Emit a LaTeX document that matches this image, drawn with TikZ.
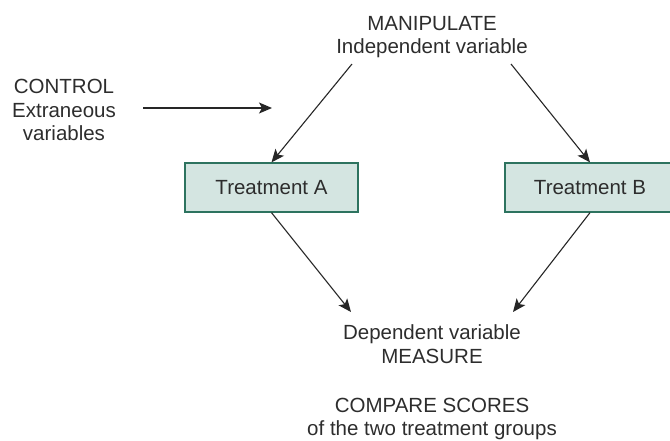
\documentclass[tikz,border=0pt]{standalone}
\usepackage{fontspec}
\setmainfont{Liberation Sans}
\usetikzlibrary{arrows.meta}
\definecolor{boxfill}{RGB}{212,229,225}
\definecolor{boxline}{RGB}{45,115,95}
\definecolor{txt}{RGB}{45,45,45}
\tikzset{
  lbl/.style={align=center, text=txt, font=\fontsize{20.5}{23.5}\selectfont, inner sep=0pt},
  tbox/.style={draw=boxline, fill=boxfill, line width=1.3pt, minimum height=49pt, inner sep=0pt, text=txt, font=\fontsize{20.5}{23.5}\selectfont},
  arr/.style={draw=black!85, line width=1.1pt, -{Stealth[length=13pt,width=11pt,inset=3pt]}}
}
\begin{document}
\begin{tikzpicture}[x=1pt,y=-1pt]
\useasboundingbox (0,0) rectangle (670,440);
\node[lbl] (manip) at (432,37) {MANIPULATE\\Independent variable};
\node[lbl] (control) at (64,110) {CONTROL\\Extraneous\\variables};
\node[tbox, minimum width=173pt] (ta) at (271.5,187.5) {Treatment A};
\node[tbox, minimum width=170pt] (tb) at (590,187.5) {Treatment B};
\node[lbl] (dep) at (432,344) {Dependent variable\\MEASURE};
\node[lbl] (comp) at (432,419) {COMPARE SCORES\\of the two treatment groups};
\coordinate (m1) at (352,64);
\coordinate (m2) at (511,64);
\coordinate (c1) at (143,108);
\coordinate (c2) at (272,108);
\coordinate (d1) at (351,312);
\coordinate (d2) at (513,312);
\draw[arr] (m1) -- (ta.north);
\draw[arr] (m2) -- (tb.north);
\draw[arr] (c1) -- (c2);
\draw[arr] (ta.south) -- (d1);
\draw[arr] (tb.south) -- (d2);
\end{tikzpicture}
\end{document}
